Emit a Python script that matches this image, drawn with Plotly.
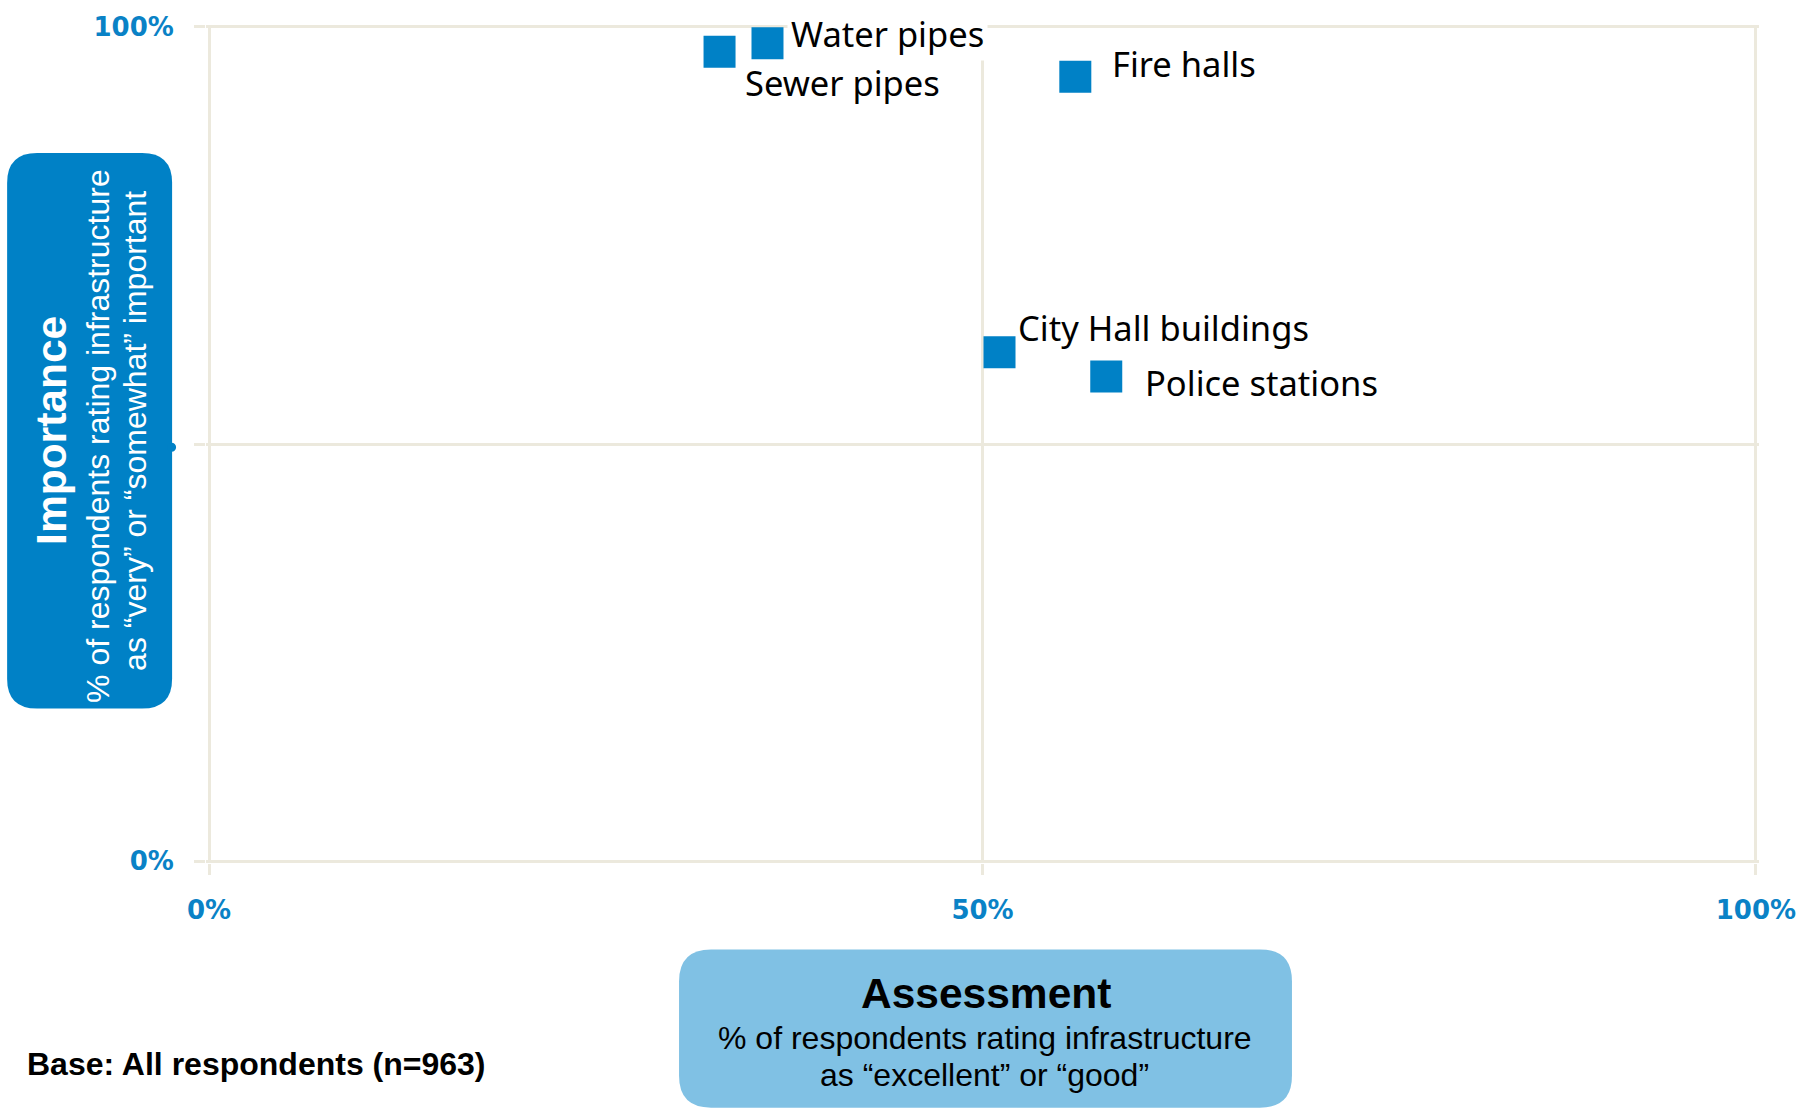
import plotly.graph_objects as go

# ---- data ----
items = ["Water pipes", "Sewer pipes", "Fire halls", "City Hall buildings", "Police stations"]
assessment = [0.361, 0.330, 0.560, 0.511, 0.580]   # % rating excellent/good
importance = [0.980, 0.970, 0.940, 0.610, 0.581]   # % rating very/somewhat important
x_tickvals = [0, 0.5, 1]
x_ticktext = ["0%", "50%", "100%"]
y_tickvals = [0, 0.5, 1]
y_ticktext = ["0%", "", "100%"]

# label offsets in pixels (style)
label_shift = {
    "Water pipes": (20, 10),
    "Sewer pipes": (21, -31),
    "Fire halls": (33, 13),
    "City Hall buildings": (14, 25),
    "Police stations": (35, -6),
}
label_bg = {"Water pipes": "#FFFFFF"}

W, H = 1812, 1111
# plot area in pixels for the 0..1 range
X0, X1 = 209, 1756
Y0, Y1 = 861.5, 23.0   # y pixel of 0 and 1
PAD = 0.002
sx = (X1 - X0)
sy = (Y0 - Y1)
L = X0 - PAD * sx
R = W - (X1 + PAD * sx)
T = Y1 - PAD * sy
B = H - (Y0 + PAD * sy)
PW = W - L - R
PH = H - T - B

BLUE = "#0081C6"
LIGHT = "#80C1E4"
GRID = "#ECE9DD"
TICKBLUE = "#0A82C6"


def px(xp):
    return (xp - L) / PW


def py(yp):
    return (T + PH - yp) / PH


def rrect(x0, y0, x1, y1, r):
    pts = [
        ("M", [(x0 + r, y0)]),
        ("L", [(x1 - r, y0)]),
        ("Q", [(x1, y0), (x1, y0 + r)]),
        ("L", [(x1, y1 - r)]),
        ("Q", [(x1, y1), (x1 - r, y1)]),
        ("L", [(x0 + r, y1)]),
        ("Q", [(x0, y1), (x0, y1 - r)]),
        ("L", [(x0, y0 + r)]),
        ("Q", [(x0, y0), (x0 + r, y0)]),
    ]
    s = ""
    for cmd, ps in pts:
        s += cmd + " " + " ".join(f"{px(a):.5f},{py(b):.5f}" for a, b in ps) + " "
    return s + "Z"


fig = go.Figure()
fig.add_trace(go.Scatter(
    x=assessment, y=importance, mode="markers",
    marker=dict(symbol="square", size=32, color=BLUE, line=dict(width=0)),
    cliponaxis=False, hoverinfo="text", text=items, showlegend=False,
))

annotations = []
for name, xv, yv in zip(items, assessment, importance):
    dx, dy = label_shift[name]
    annotations.append(dict(
        x=xv, y=yv, xref="x", yref="y", text=name, showarrow=False,
        xanchor="left", yanchor="middle", xshift=dx, yshift=dy,
        font=dict(family="Noto Sans", size=34.5, color="#000000"),
        bgcolor=label_bg.get(name, "rgba(0,0,0,0)"), borderpad=3,
    ))

shapes = [
    dict(type="path", xref="paper", yref="paper", path=rrect(7, 150, 172, 708, 30),
         fillcolor=BLUE, line=dict(width=0), layer="above"),
    dict(type="circle", xref="paper", yref="paper",
         x0=px(167), x1=px(176), y0=py(450), y1=py(441),
         fillcolor=BLUE, line=dict(width=0), layer="above"),
    dict(type="path", xref="paper", yref="paper", path=rrect(679, 950, 1292, 1109, 32),
         fillcolor=LIGHT, line=dict(width=0), layer="above"),
]

def pa(text, x, y, size, color, angle=0, xanchor="center"):
    return dict(x=px(x), y=py(y), xref="paper", yref="paper", text=text,
                showarrow=False, textangle=angle, xanchor=xanchor, yanchor="middle",
                font=dict(family="Liberation Sans, Arial", size=size, color=color))

annotations += [
    pa("<b>Importance</b>", 52, 429, 42.5, "#FFFFFF", -90),
    pa("% of respondents rating infrastructure", 98, 434, 32, "#FFFFFF", -90),
    pa("as “very” or “somewhat” important", 135, 429, 32, "#FFFFFF", -90),
    pa("<b>Assessment</b>", 986, 994, 42.5, "#000000"),
    pa("% of respondents rating infrastructure", 985, 1039, 32, "#000000"),
    pa("as “excellent” or “good”", 985, 1076, 32, "#000000"),
    pa("<b>Base: All respondents (n=963)</b>", 25, 1065, 32, "#000000", xanchor="left"),
]

axis_common = dict(
    range=[-PAD, 1 + PAD], showgrid=True, gridcolor=GRID, gridwidth=3,
    zeroline=False, showline=False, ticks="outside", ticklen=11,
    tickcolor=GRID, tickwidth=3,
    tickfont=dict(family="DejaVu Sans", size=26, color=TICKBLUE, weight="bold"),
    fixedrange=True,
)

fig.update_layout(
    width=W, height=H, margin=dict(l=L, r=R, t=T, b=B, pad=0),
    paper_bgcolor="#FFFFFF", plot_bgcolor="#FFFFFF",
    xaxis=dict(**axis_common, tickvals=x_tickvals, ticktext=x_ticktext, ticklabelstandoff=13),
    yaxis=dict(**axis_common, tickvals=y_tickvals, ticktext=y_ticktext, ticklabelstandoff=15),
    shapes=shapes, annotations=annotations,
)

fig.write_html("out.html", config={"displayModeBar": False},
               post_script="document.body.style.margin='0px';")
